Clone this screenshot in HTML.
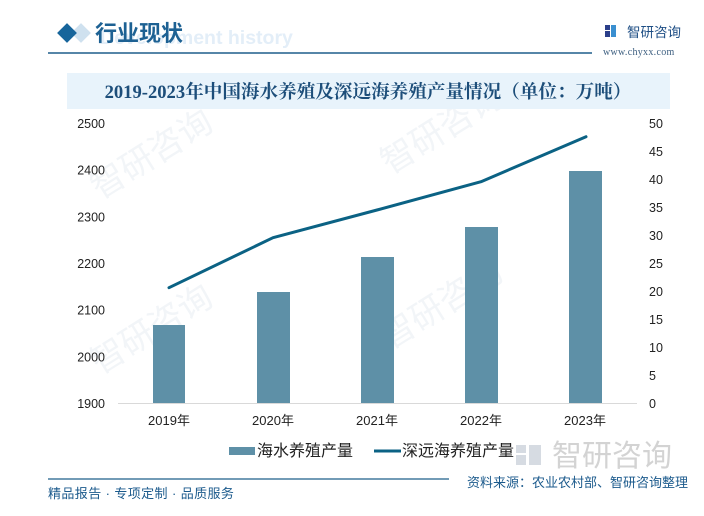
<!DOCTYPE html>
<html><head><meta charset="utf-8"><style>
html,body{margin:0;padding:0;background:#fff;}
svg{display:block;}
</style></head><body>
<svg width="704" height="516" viewBox="0 0 704 516" xmlns="http://www.w3.org/2000/svg" style="font-family:'Liberation Sans','Noto Sans CJK SC',sans-serif;">
<rect width="704" height="516" fill="#fff"/>
<!-- faint watermarks -->
<g fill="#f2f5f8" font-size="34" style="font-family:'Noto Sans CJK SC',sans-serif;">
<text transform="translate(100,200) rotate(-32)">智研咨询</text>
<text transform="translate(100,375) rotate(-32)">智研咨询</text>
<text transform="translate(390,175) rotate(-32)">智研咨询</text>
<text transform="translate(390,350) rotate(-32)">智研咨询</text>
</g>
<!-- header -->
<rect x="74" y="26" width="14" height="14" fill="#cfe1ef" transform="rotate(45 81 33)"/>
<rect x="60" y="26" width="14" height="14" fill="#17659b" transform="rotate(45 67 33)"/>
<text x="100" y="44" font-size="19.5" font-weight="bold" fill="#e3eef8">Development history</text>
<text x="95" y="41" font-size="22" font-weight="bold" fill="#1d6193" style="font-family:'Noto Sans CJK SC',sans-serif;">行业现状</text>
<line x1="48" y1="53" x2="592" y2="53" stroke="#1f5f8b" stroke-width="1.6"/>
<!-- logo -->
<rect x="605" y="25" width="5" height="5" fill="#2b3f8a"/>
<rect x="605" y="31" width="5" height="6" fill="#2b3f8a"/>
<rect x="611" y="25" width="5" height="12" fill="#3a8fd0"/>
<text x="627" y="37" font-size="13.5" fill="#1f4f85" style="font-family:'Noto Sans CJK SC',sans-serif;">智研咨询</text>
<text x="603" y="55" font-size="10" fill="#3d5f80" letter-spacing="0.3" style="font-family:'Liberation Serif',serif;">www.chyxx.com</text>
<!-- title band -->
<rect x="67" y="73" width="603" height="36" fill="#e8f3fb"/>
<text x="368" y="98" text-anchor="middle" font-size="18.6" font-weight="bold" fill="#1d4e7a" style="font-family:'Liberation Serif','Noto Serif CJK SC',serif;">2019-2023年中国海水养殖及深远海养殖产量情况（单位：万吨）</text>
<!-- axes labels left -->
<g font-size="12.5" fill="#222" text-anchor="end">
<text x="105" y="128">2500</text>
<text x="105" y="174.7">2400</text>
<text x="105" y="221.3">2300</text>
<text x="105" y="268">2200</text>
<text x="105" y="314.7">2100</text>
<text x="105" y="361.3">2000</text>
<text x="105" y="408">1900</text>
</g>
<g font-size="12.5" fill="#222" text-anchor="start">
<text x="649" y="128">50</text>
<text x="649" y="156">45</text>
<text x="649" y="184">40</text>
<text x="649" y="212">35</text>
<text x="649" y="240">30</text>
<text x="649" y="268">25</text>
<text x="649" y="296">20</text>
<text x="649" y="324">15</text>
<text x="649" y="352">10</text>
<text x="649" y="380">5</text>
<text x="649" y="408">0</text>
</g>
<!-- bars -->
<g fill="#5e90a7">
<rect x="153" y="325" width="32" height="78"/>
<rect x="257" y="292" width="33" height="111"/>
<rect x="361" y="257" width="33" height="146"/>
<rect x="465" y="227" width="33" height="176"/>
<rect x="569" y="171" width="33" height="232"/>
</g>
<line x1="118" y1="403.5" x2="637" y2="403.5" stroke="#d9d9d9" stroke-width="1"/>
<!-- line -->
<polyline points="169,287.7 273,237.7 377,210 481,181.7 586,136.7" fill="none" stroke="#0b6284" stroke-width="3" stroke-linejoin="round" stroke-linecap="round"/>
<!-- x labels -->
<g font-size="13" fill="#222" text-anchor="middle">
<text x="169" y="425">2019年</text>
<text x="273" y="425">2020年</text>
<text x="377" y="425">2021年</text>
<text x="481" y="425">2022年</text>
<text x="585" y="425">2023年</text>
</g>
<!-- bottom-right big watermark -->
<rect x="516" y="445" width="10" height="8" fill="#d6dbe2"/>
<rect x="516" y="455" width="10" height="10" fill="#d6dbe2"/>
<rect x="529" y="445" width="12" height="20" fill="#d6dbe2"/>
<text x="552" y="466" font-size="30" fill="#d3d3d3" style="font-family:'Noto Sans CJK SC',sans-serif;">智研咨询</text>
<!-- legend -->
<rect x="229" y="447" width="26" height="8" fill="#5e90a7"/>
<text x="257" y="456" font-size="16" fill="#222">海水养殖产量</text>
<line x1="374" y1="451" x2="401" y2="451" stroke="#0b6284" stroke-width="3"/>
<text x="402" y="456" font-size="16" fill="#222">深远海养殖产量</text>
<!-- footer -->
<line x1="48" y1="479" x2="449" y2="479" stroke="#1f5f8b" stroke-width="1.2"/>
<text x="48" y="498" font-size="13" fill="#1b5a8c" letter-spacing="0.4">精品报告 · 专项定制 · 品质服务</text>
<text x="467" y="487" font-size="13" fill="#1b5a8c">资料来源：农业农村部、智研咨询整理</text>
</svg>
</body></html>
